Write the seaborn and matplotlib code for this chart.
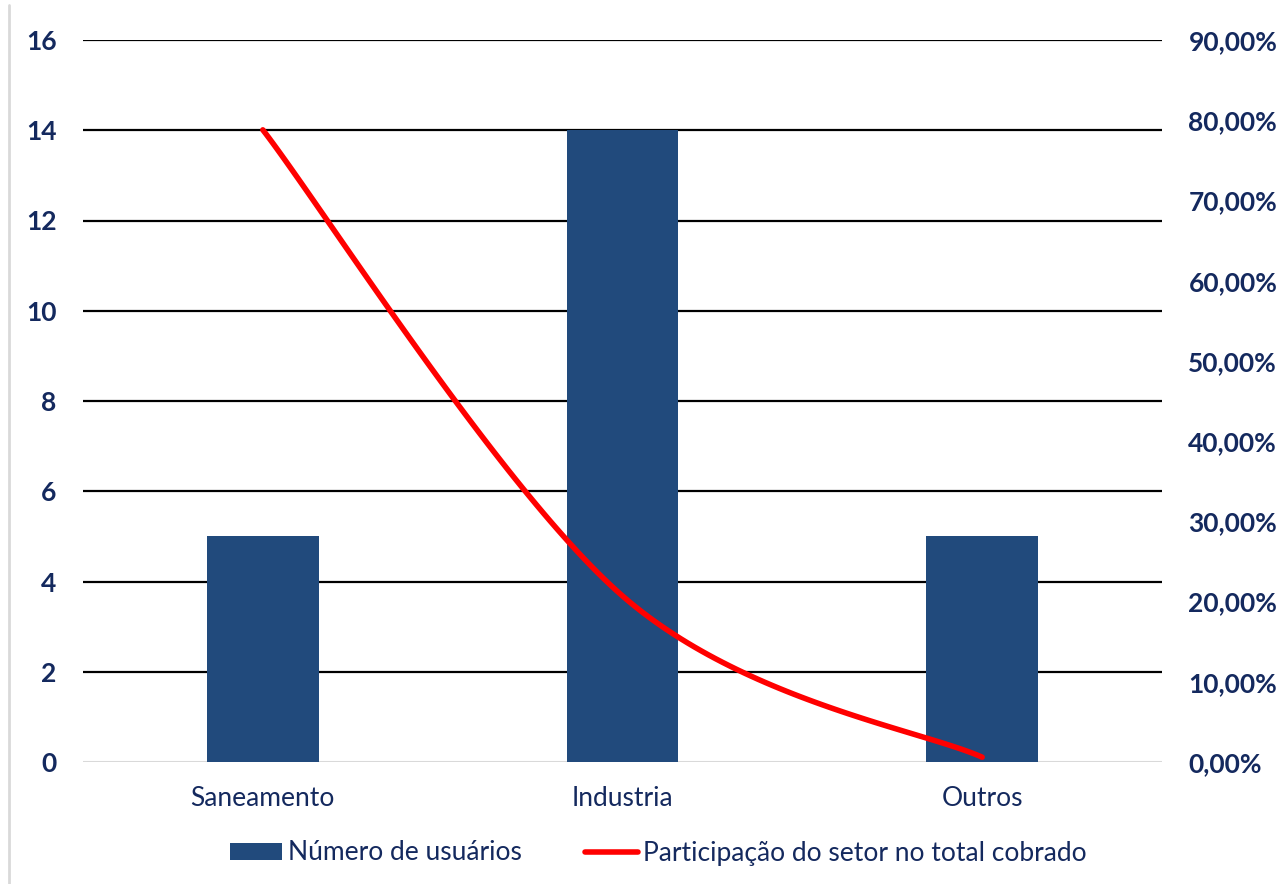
import numpy as np
import matplotlib
matplotlib.use("Agg")
import matplotlib.pyplot as plt
from matplotlib.lines import Line2D
from matplotlib.patches import Patch
from matplotlib.ticker import FuncFormatter
import seaborn as sns

categories = ["Saneamento", "Industria", "Outros"]
usuarios = [5, 14, 5]
participacao = [78.8, 20.7, 0.6]  # percent of total charged

BAR_COLOR = "#214A7C"
LINE_COLOR = "#FF0000"
TEXT_COLOR = "#14295E"

sns.set_theme(style="white")
plt.rcParams["font.family"] = ["Lato", "DejaVu Sans"]

fig = plt.figure(figsize=(12.84, 8.84), dpi=100)
ax = fig.add_axes([83 / 1284, 1 - 762 / 884, (1162 - 83) / 1284, (762 - 40) / 884])

sns.barplot(x=categories, y=usuarios, color=BAR_COLOR, width=0.311,
            saturation=1, linewidth=0, ax=ax, zorder=3)
ax.set_xlim(-0.5, 2.5)
ax.set_ylim(0, 16)
ax.set_yticks(range(0, 17, 2))
for v in range(2, 17, 2):
    ax.axhline(v, color="black", lw=1.6, zorder=1)
ax.axhline(0, color="#D9D9D9", lw=1.5, zorder=1)
for s in ax.spines.values():
    s.set_visible(False)
ax.set_xlabel("")
ax.set_ylabel("")
ax.tick_params(axis="y", length=0, labelsize=19, pad=19)
ax.tick_params(axis="x", length=0, labelsize=19, pad=17)
for lab in ax.get_yticklabels() + ax.get_xticklabels():
    lab.set_color(TEXT_COLOR)
for lab in ax.get_yticklabels():
    lab.set_fontweight("bold")

# Smoothed line (cubic Bezier through points, Excel-style tension)
ax2 = ax.twinx()
pts = np.array([[i, p] for i, p in enumerate(participacao)], dtype=float)
ext = np.vstack([pts[0], pts, pts[-1]])
curve = []
t = np.linspace(0, 1, 60)[:, None]
for i in range(len(pts) - 1):
    p0, p3 = ext[i + 1], ext[i + 2]
    c1 = p0 + (ext[i + 2] - ext[i]) / 6
    c2 = p3 - (ext[i + 3] - ext[i + 1]) / 6
    seg = ((1 - t) ** 3) * p0 + 3 * ((1 - t) ** 2) * t * c1 + 3 * (1 - t) * t ** 2 * c2 + t ** 3 * p3
    curve.append(seg if i == 0 else seg[1:])
curve = np.vstack(curve)
sns.lineplot(x=curve[:, 0], y=curve[:, 1], sort=False, color=LINE_COLOR,
             lw=4, ax=ax2, zorder=4)
line = ax2.get_lines()[0]
line.set_solid_capstyle("round")
ax2.set_ylim(0, 90)
ax2.set_yticks(range(0, 91, 10))
ax2.yaxis.set_major_formatter(FuncFormatter(lambda v, _: f"{v:.2f}%".replace(".", ",")))
for s in ax2.spines.values():
    s.set_visible(False)
ax2.set_ylabel("")
ax2.tick_params(axis="y", length=0, labelsize=19, pad=19)
for lab in ax2.get_yticklabels():
    lab.set_fontweight("bold")
    lab.set_color(TEXT_COLOR)
ax2.set_xlim(-0.5, 2.5)

handles = [Patch(facecolor=BAR_COLOR, edgecolor="none", label="Número de usuários"),
           Line2D([0], [0], color=LINE_COLOR, lw=4, solid_capstyle="round",
                  label="Participação do setor no total cobrado")]
leg = fig.legend(handles=handles, loc="center", bbox_to_anchor=(658 / 1284, 1 - 853 / 884),
                 ncol=2, frameon=False, fontsize=19, handlelength=2.0,
                 handleheight=0.6, handletextpad=0.2, columnspacing=2.4)
for txt in leg.get_texts():
    txt.set_color(TEXT_COLOR)

# outer chart border on the left
fig.add_artist(Line2D([9 / 1284, 9 / 1284], [0, 1 - 5 / 884], color="#D9D9D9", lw=2))

fig.savefig("out.png", dpi=100)
